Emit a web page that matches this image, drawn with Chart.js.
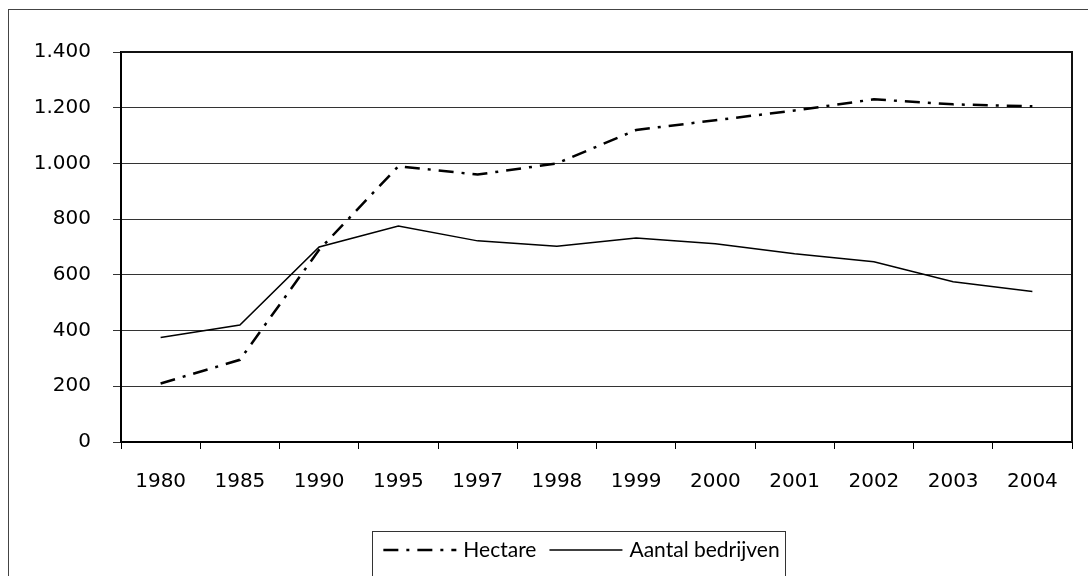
<!DOCTYPE html>
<html>
<head>
<meta charset="utf-8">
<script src="https://cdn.jsdelivr.net/npm/chart.js@4.4.0/dist/chart.umd.min.js"></script>
<style>
    body { margin: 0; background: #fff; }
    #wrap { position: relative; width: 1088px; height: 576px; overflow: hidden; }
    #frame { position: absolute; left: 8px; top: 9px; width: 2000px; height: 2000px; border-left: 1px solid #444; border-top: 1px solid #444; }
    #chartBox { position: absolute; left: 0; top: 0; width: 1088px; height: 576px; }
</style>
</head>
<body>
<div id="wrap">
    <div id="frame"></div>
    <div id="chartBox"><canvas id="mainChart"></canvas></div>
</div>
<script>
const years = ["1980", "1985", "1990", "1995", "1997", "1998", "1999", "2000", "2001", "2002", "2003", "2004"];
const hectare = [210, 295, 690, 990, 960, 1000, 1120, 1155, 1190, 1230, 1212, 1205];
const aantalBedrijven = [375, 420, 700, 775, 722, 703, 732, 712, 676, 647, 575, 540];
const seriesLabels = ["Hectare", "Aantal bedrijven"];

const TICK_FONT = { family: "'DejaVu Sans', Verdana, sans-serif", size: 20 };
const LEGEND_FONT = "21px Lato, sans-serif";

function formatThousands(value) {
    return String(value).replace(/\B(?=(\d{3})+(?!\d))/g, ".");
}

// top + right side of the plot frame (Excel style box)
const plotFrame = {
    id: "plotFrame",
    afterDraw(chart) {
        const { ctx, chartArea } = chart;
        ctx.save();
        ctx.strokeStyle = "#111";
        ctx.lineWidth = 2;
        ctx.beginPath();
        ctx.moveTo(chartArea.left, chartArea.top);
        ctx.lineTo(chartArea.right, chartArea.top);
        ctx.lineTo(chartArea.right, chartArea.bottom);
        ctx.stroke();
        ctx.restore();
    },
};

// legend in a bordered box under the axis
const boxedLegend = {
    id: "boxedLegend",
    afterDraw(chart) {
        const ctx = chart.ctx;
        const sampleW = 73;
        const cx = 579;
        const top = 531;
        const midY = 550;
        ctx.save();
        ctx.font = LEGEND_FONT;
        const widths = chart.data.datasets.map((ds) => ctx.measureText(ds.label).width);
        const total = 11 + widths.reduce((a, w) => a + sampleW + 7 + w, 0) + 13 + 6;
        let x = cx - total / 2;
        ctx.strokeStyle = "#333";
        ctx.lineWidth = 1;
        ctx.setLineDash([]);
        ctx.strokeRect(Math.round(x) + 0.5, top + 0.5, Math.round(total), 60);
        x += 11;
        chart.data.datasets.forEach((ds, i) => {
            ctx.beginPath();
            ctx.setLineDash(ds.borderDash || []);
            ctx.lineWidth = ds.borderWidth;
            ctx.strokeStyle = ds.borderColor;
            ctx.moveTo(x, midY);
            ctx.lineTo(x + sampleW, midY);
            ctx.stroke();
            ctx.setLineDash([]);
            x += sampleW + 7;
            ctx.fillStyle = "#000";
            ctx.textBaseline = "middle";
            ctx.fillText(ds.label, x, midY);
            x += widths[i] + 13;
        });
        ctx.restore();
    },
};

function createChart(canvasID) {
    const canvas = document.getElementById(canvasID);
    return new Chart(canvas, {
        type: "line",
        data: {
            labels: years,
            datasets: [
                {
                    label: seriesLabels[0],
                    data: hectare,
                    borderColor: "#000",
                    borderWidth: 2.5,
                    borderDash: [15, 8, 3, 8],
                    pointRadius: 0,
                    tension: 0,
                },
                {
                    label: seriesLabels[1],
                    data: aantalBedrijven,
                    borderColor: "#000",
                    borderWidth: 1.5,
                    pointRadius: 0,
                    tension: 0,
                },
            ],
        },
        options: {
            responsive: true,
            maintainAspectRatio: false,
            animation: false,
            layout: { padding: { left: 0, right: 16, top: 52, bottom: 0 } },
            plugins: {
                legend: { display: false },
                tooltip: { enabled: false },
            },
            scales: {
                x: {
                    offset: true,
                    grid: { offset: true, drawOnChartArea: false, tickLength: 7, color: "#000", lineWidth: 1 },
                    border: { color: "#000", width: 2 },
                    ticks: { color: "#000", font: TICK_FONT, padding: 21, maxRotation: 0 },
                    afterFit: (scale) => { scale.height = 134; },
                },
                y: {
                    min: 0,
                    max: 1400,
                    ticks: { stepSize: 200, color: "#000", font: TICK_FONT, padding: 22, callback: (v) => formatThousands(v) },
                    grid: { color: "#333", lineWidth: 1, tickLength: 8 },
                    border: { color: "#000", width: 2 },
                    afterFit: (scale) => { scale.width = 121; },
                },
            },
        },
        plugins: [plotFrame, boxedLegend],
    });
}

createChart("mainChart");
</script>
</body>
</html>
